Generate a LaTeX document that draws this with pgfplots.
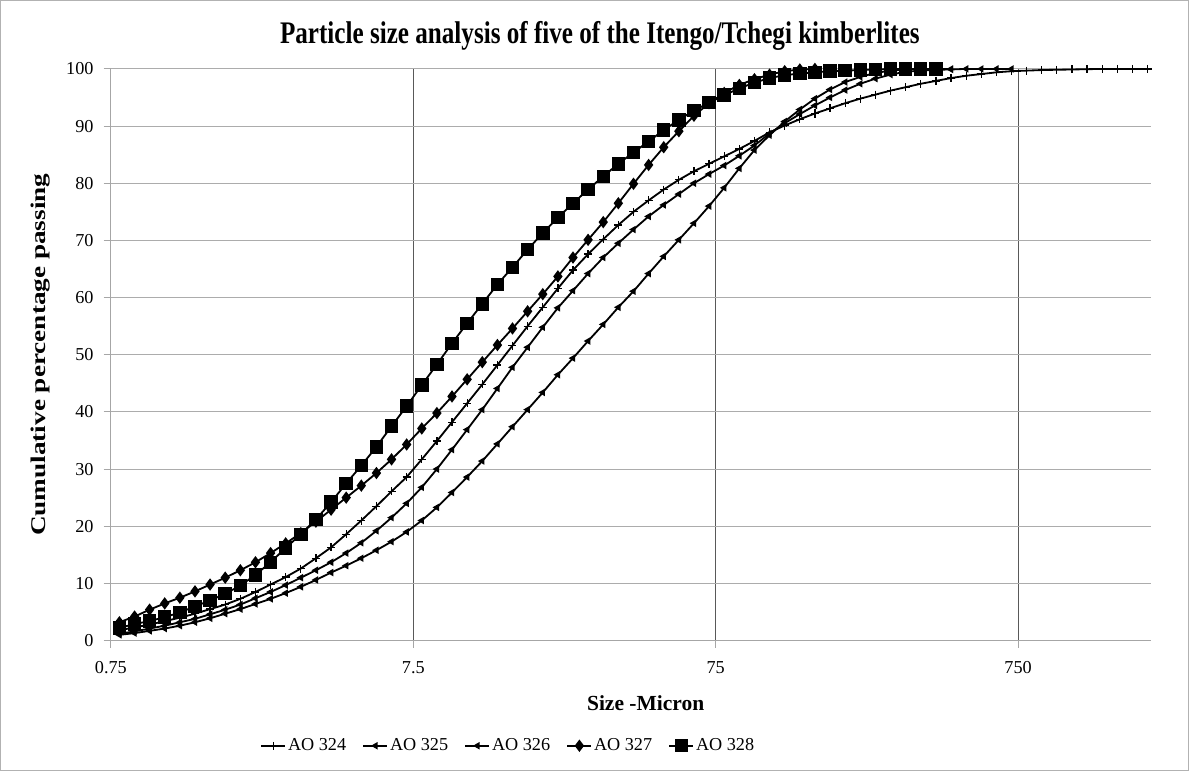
\documentclass[border=0pt]{standalone}
\usepackage{fontspec}
\setmainfont{Liberation Serif}
\usepackage{graphicx}
\usepackage{pgfplots}
\usepackage{pgfplotstable}
\pgfplotsset{compat=1.18}

\pgfplotstableread{
x      a      b      c      d      e
0.800  1.8    1.0    1.2    3.2    2.2
0.898  2.3    1.3    1.6    4.2    2.9
1.007  2.8    1.7    2.1    5.4    3.4
1.130  3.4    2.1    2.6    6.5    4.1
1.268  4.0    2.6    3.2    7.5    4.9
1.423  4.7    3.2    3.8    8.6    6.0
1.596  5.5    3.9    4.6    9.8    7.0
1.791  6.3    4.7    5.4    11.0   8.2
2.010  7.3    5.5    6.3    12.3   9.6
2.255  8.5    6.4    7.4    13.7   11.5
2.530  9.8    7.3    8.5    15.3   13.7
2.838  11.1   8.3    9.7    17.0   16.2
3.185  12.6   9.4    11.0   18.8   18.6
3.573  14.4   10.6   12.3   20.8   21.2
4.010  16.3   11.9   13.7   22.9   24.2
4.499  18.6   13.1   15.3   25.0   27.5
5.048  21.0   14.4   17.1   27.1   30.6
5.664  23.5   15.8   19.2   29.3   33.9
6.355  26.1   17.3   21.5   31.7   37.5
7.130  28.6   19.0   24.0   34.3   41.0
8.000  31.7   21.0   26.8   37.1   44.7
8.976  34.9   23.3   30.0   39.8   48.3
10.07  38.2   25.9   33.4   42.7   52.0
11.30  41.5   28.6   36.9   45.7   55.5
12.68  44.8   31.4   40.4   48.7   58.9
14.23  48.2   34.4   44.1   51.7   62.3
15.96  51.6   37.4   47.8   54.6   65.3
17.91  55.0   40.4   51.3   57.6   68.4
20.10  58.3   43.4   54.8   60.6   71.3
22.55  61.6   46.5   58.2   63.7   74.0
25.30  64.8   49.4   61.2   67.0   76.5
28.38  67.6   52.4   64.2   70.1   78.9
31.85  70.2   55.3   67.0   73.2   81.2
35.73  72.7   58.3   69.5   76.5   83.4
40.10  75.0   61.1   71.9   79.9   85.4
44.99  77.0   64.2   74.2   83.2   87.3
50.48  78.9   67.2   76.2   86.3   89.3
56.64  80.6   70.1   78.1   89.1   91.1
63.55  82.1   73.0   80.0   91.8   92.7
71.30  83.4   76.0   81.6   94.0   94.1
80.00  84.7   79.2   83.1   95.8   95.4
89.76  86.0   82.6   84.8   97.2   96.6
100.7  87.4   85.8   86.6   98.2   97.6
113.0  88.9   88.4   88.7   99.0   98.4
126.8  90.1   90.8   90.5   99.6   98.9
142.3  91.2   92.9   92.1   99.9   99.2
159.6  92.2   94.8   93.6   100    99.4
179.1  93.1   96.4   95.0   nan    99.6
201.0  94.0   97.7   96.3   nan    99.7
225.5  94.8   98.6   97.4   nan    99.8
253.0  95.5   99.3   98.3   nan    99.9
283.8  96.2   99.7   99.0   nan    100
318.5  96.8   99.9   99.5   nan    100
357.3  97.4   100    99.7   nan    100
401.0  97.9   100    99.85  nan    100
449.9  98.4   100    99.9   nan    nan
504.8  98.8   nan    100    nan    nan
566.4  99.1   nan    100    nan    nan
635.5  99.4   nan    100    nan    nan
713.0  99.6   nan    100    nan    nan
800.0  99.7   nan    nan    nan    nan
897.6  99.8   nan    nan    nan    nan
1007   99.85  nan    nan    nan    nan
1130   99.9   nan    nan    nan    nan
1268   99.95  nan    nan    nan    nan
1423   100    nan    nan    nan    nan
1596   100    nan    nan    nan    nan
1791   100    nan    nan    nan    nan
2010   100    nan    nan    nan    nan
}\data

\begin{document}
\begin{tikzpicture}
\begin{axis}[
  scale only axis, width=571.45pt, height=314pt,
  xmode=log, xmin=0.75, xmax=2066, ymin=0, ymax=100,
  xtick={0.75,7.5,75,750}, xticklabels={0.75,7.5,75,750},
  xminorticks=false,
  ytick={0,10,...,100},
  grid=major,
  x grid style={black!65, line width=0.6pt},
  y grid style={gray!65, line width=0.6pt},
  axis x line*=bottom, axis y line*=left,
  axis line style={gray!70, line width=0.6pt, -},
  tick style={gray!70, line width=0.6pt}, tick align=outside, major tick length=4pt,
  /pgf/number format/assume math mode=true,
  tick label style={font=\fontsize{10}{12}\selectfont},
  yticklabel style={xshift=-2pt},
  xticklabel style={yshift=-4pt},
  title={\scalebox{1}[1.25]{Particle size analysis of five of the Itengo/Tchegi kimberlites}},
  title style={font=\bfseries\fontsize{13.8}{16}\selectfont, at={(0.47,1.038)}, anchor=center},
  xlabel={Size -Micron},
  xlabel style={font=\bfseries\fontsize{11.8}{13}\selectfont, at={(0.514,-0.11)}, anchor=center},
  ylabel={\scalebox{1.3}[1]{Cumulative percentage passing}},
  ylabel style={font=\bfseries\fontsize{11.5}{13}\selectfont, at={(-0.068,0.5)}, anchor=center},
  unbounded coords=discard,
  legend columns=5,
  legend style={at={(0.382,-0.184)}, anchor=center, draw=none,
    font=\fontsize{10}{12}\selectfont,
    nodes={inner sep=1pt},
    /tikz/every even column/.append style={column sep=8pt}},
  legend image code/.code={\draw[mark repeat=2,mark phase=2] plot coordinates {(0cm,0cm) (0.23cm,0cm) (0.46cm,0cm)};},
  every axis plot/.append style={black, line width=1pt},
]
\addplot[mark=+, mark size=2.2pt, mark options={line width=0.7pt}] table[x=x,y=a] {\data};
\addlegendentry{AO 324}
\addplot[mark=triangle*, mark size=1.4pt, mark options={rotate=90}] table[x=x,y=b] {\data};
\addlegendentry{AO 325}
\addplot[mark=triangle*, mark size=1.4pt, mark options={rotate=90}] table[x=x,y=c] {\data};
\addlegendentry{AO 326}
\addplot[mark=diamond*, mark size=2.6pt] table[x=x,y=d] {\data};
\addlegendentry{AO 327}
\addplot[mark=square*, mark size=3.2pt] table[x=x,y=e] {\data};
\addlegendentry{AO 328}
\end{axis}
\draw[gray!60, line width=0.8pt] (-60.5pt,-71.5pt) rectangle (591.8pt,351.45pt);
\end{tikzpicture}
\end{document}
